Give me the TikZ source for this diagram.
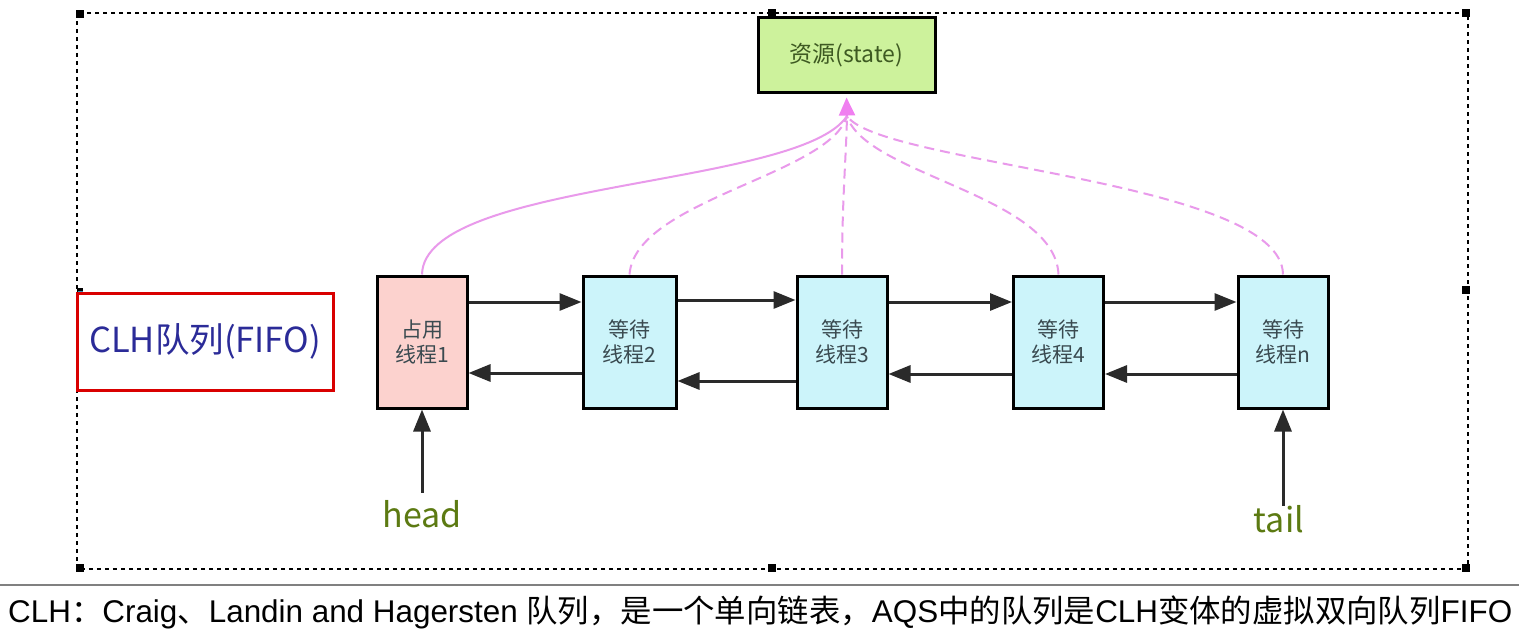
\documentclass[tikz,border=0pt]{standalone}
\usepackage{fontspec}
\setmainfont{Liberation Sans}
\newfontfamily\cjk{Noto Sans CJK SC}
\usetikzlibrary{arrows.meta}
\definecolor{resfill}{HTML}{CDF29C}
\definecolor{restext}{HTML}{3E5A22}
\definecolor{pinkfill}{HTML}{FCD2CE}
\definecolor{cyanfill}{HTML}{CCF4FA}
\definecolor{boxtext}{HTML}{3A4A50}
\definecolor{linkpink}{HTML}{E99AEB}
\definecolor{arrowpink}{HTML}{F07FF0}
\definecolor{olive}{HTML}{5C7A12}
\definecolor{clhblue}{HTML}{2B2B98}
\definecolor{linkcol}{HTML}{2A2A2A}
\tikzset{
  thread/.style={draw=black, line width=3pt, minimum width=90pt, minimum height=132pt, inner sep=0pt, font=\cjk\fontsize{21}{25}\selectfont, text=boxtext, align=center},
  waitbox/.style={thread, fill=cyanfill},
  holdbox/.style={thread, fill=pinkfill},
  link/.style={draw=linkcol, line width=3pt, -{Triangle[length=22pt,width=17pt]}},
  share/.style={draw=linkpink, line width=2pt},
  sharedash/.style={share, dash pattern=on 10pt off 6pt},
  handle/.style={fill=black, minimum size=8pt, inner sep=0pt},
  ptr/.style={font=\cjk\fontsize{34}{38}\selectfont, text=olive}
}
\begin{document}
\begin{tikzpicture}[x=1pt, y=-1pt]
\useasboundingbox (0,0) rectangle (1519,642);
\fill[white] (0,0) rectangle (1519,642);
% selection frame
\draw[black, line width=1.6pt, dash pattern=on 4pt off 4pt] (77,13) rectangle (1468,569);
\foreach \hx/\hy in {80/14, 772/13, 1466/13, 1466/290, 80/568, 772/568, 1466/568}
  \node[handle] at (\hx,\hy) {};
\fill[black] (77,288) rectangle (83,293);
\fill[cyan!70!black] (78,291) rectangle (83,295);
% resource
\node[draw=black, line width=3pt, fill=resfill, minimum width=177pt, minimum height=75pt, inner sep=0pt, text=restext, font=\cjk\fontsize{23}{27}\selectfont] (res) at (846.5,55.5) {资源(state)};
% CLH box
\node[draw=red!85!black, line width=3pt, minimum width=256pt, minimum height=97pt, inner sep=0pt, text=clhblue, font=\cjk\fontsize{34.5}{38}\selectfont] (clh) at (205,341.5) {CLH队列(FIFO)};
% threads
\node[holdbox] (b1) at (422,342) {占用\\线程1};
\node[waitbox, minimum width=93pt] (b2) at (629.5,342) {等待\\线程2};
\node[waitbox] (b3) at (842,342) {等待\\线程3};
\node[waitbox] (b4) at (1058.5,342) {等待\\线程4};
\node[waitbox] (b5) at (1283,342) {等待\\线程n};
% links
\draw[link] ([yshift=40pt]b1.east) -- ([yshift=40pt]b2.west);
\draw[link] ([yshift=42pt]b2.east) -- ([yshift=42pt]b3.west);
\draw[link] ([yshift=40pt]b3.east) -- ([yshift=40pt]b4.west);
\draw[link] ([yshift=40pt]b4.east) -- ([yshift=40pt]b5.west);
\draw[link] ([yshift=-31pt]b2.west) -- ([yshift=-31pt]b1.east);
\draw[link] ([yshift=-39pt]b3.west) -- ([yshift=-39pt]b2.east);
\draw[link] ([yshift=-32pt]b4.west) -- ([yshift=-32pt]b3.east);
\draw[link] ([yshift=-32pt]b5.west) -- ([yshift=-32pt]b4.east);
% shared resource curves
\coordinate (tip) at (847,116);
\draw[share] (b1.north) .. controls (424,180) and (800,188) .. (tip);
\draw[sharedash] (b2.north) .. controls (635,200) and (830,175) .. (tip);
\draw[sharedash] (b3.north) .. controls (842,200) and (846,160) .. (tip);
\draw[sharedash] (b4.north) .. controls (1055,195) and (865,175) .. (tip);
\draw[sharedash] (b5.north) .. controls (1282,180) and (880,165) .. (tip);
\draw[draw=arrowpink, line width=2pt, -{Triangle[length=18pt,width=16pt]}, shorten >=3pt] (tip) -- (res.south);
% head / tail
\node[ptr] (hd) at (422,514) {head};
\node[ptr] (tl) at (1279,519) {tail};
\draw[link] ([yshift=4pt]hd.north) -- (b1.south);
\draw[link] (tl.north -| b5.south) ++(0,4) -- (b5.south);
% caption
\draw[gray, line width=2pt] (0,585) -- (1519,585);
\node[anchor=west, inner sep=0pt, font=\fontsize{31.4}{35}\selectfont] (cap) at (8,612) {CLH{\cjk ：}Craig{\cjk 、}Landin and Hagersten {\cjk 队列，是一个单向链表，}AQS{\cjk 中的队列是}CLH{\cjk 变体的虚拟双向队列}FIFO};
\end{tikzpicture}
\end{document}
